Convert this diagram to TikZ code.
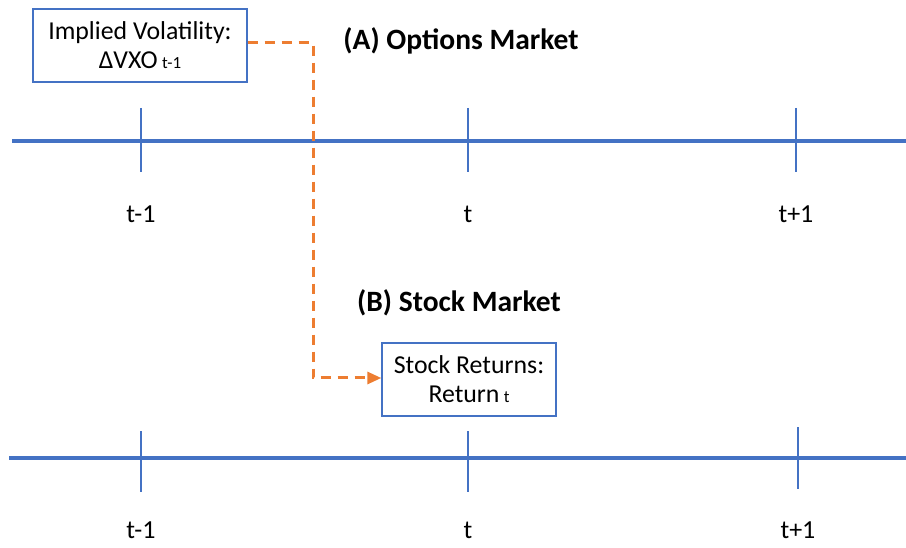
\documentclass[tikz,border=0pt]{standalone}
\usepackage{fontspec}
\setmainfont{Carlito}
\usetikzlibrary{arrows.meta}
\definecolor{axisblue}{HTML}{4472C4}
\definecolor{linkorange}{HTML}{ED7D31}
\tikzset{
  timeline/.style={draw=axisblue, line width=4pt},
  tickmark/.style={draw=axisblue, line width=1.3pt},
  ticklabel/.style={font=\fontsize{26}{30}\selectfont, inner sep=0pt},
  infobox/.style={draw=axisblue, line width=1.3pt, fill=white, align=center,
    font=\fontsize{25.8}{29}\selectfont, inner sep=0pt},
  paneltitle/.style={font=\bfseries\fontsize{29.5}{33}\selectfont, inner sep=0pt},
  link/.style={draw=linkorange, line width=3pt, dash pattern=on 10pt off 7pt,
    -{Triangle[length=14pt,width=12pt]}},
}
\newcommand{\subtxt}[1]{\,{\fontsize{17}{19}\selectfont #1}}
\begin{document}
\begin{tikzpicture}[x=1pt,y=-1pt]
  \useasboundingbox (0,0) rectangle (906,548);

  % (A) options market timeline
  \coordinate (a0) at (12,141);
  \coordinate (a1) at (906,141);
  \draw[timeline] (a0) -- (a1);
  \foreach \x/\lab [count=\i] in {141/t-1, 468/t, 796/t+1} {
    \draw[tickmark] (\x,108) -- (\x,172);
    \node[ticklabel] (la\i) at (\x,214) {\lab};
  }

  % (B) stock market timeline
  \coordinate (b0) at (9,458);
  \coordinate (b1) at (906,458);
  \draw[timeline] (b0) -- (b1);
  \draw[tickmark] (141,431) -- (141,492);
  \draw[tickmark] (468,431) -- (468,492);
  \draw[tickmark] (798,427) -- (798,489);
  \node[ticklabel] (lb1) at (141,530) {t-1};
  \node[ticklabel] (lb2) at (468,530) {t};
  \node[ticklabel] (lb3) at (798,530) {t+1};

  % panel titles
  \node[paneltitle] (ta) at (461,41) {(A) Options Market};
  \node[paneltitle] (tb) at (459,303) {(B) Stock Market};

  % variable boxes
  \node[infobox, minimum width=214pt, minimum height=73pt] (iv) at (140,45.5)
    {Implied Volatility:\\ ΔVXO\subtxt{t-1}};
  \node[infobox, minimum width=174pt, minimum height=73pt] (sr) at (469,379.5)
    {Stock Returns:\\ Return\subtxt{t}};

  % lagged link from implied volatility to stock returns
  \coordinate (bend1) at (313,43);
  \coordinate (bend2) at (313,378);
  \draw[link] (iv.east |- bend1) -- (bend1) -- (bend2) -- (sr.west |- bend2);
\end{tikzpicture}
\end{document}
